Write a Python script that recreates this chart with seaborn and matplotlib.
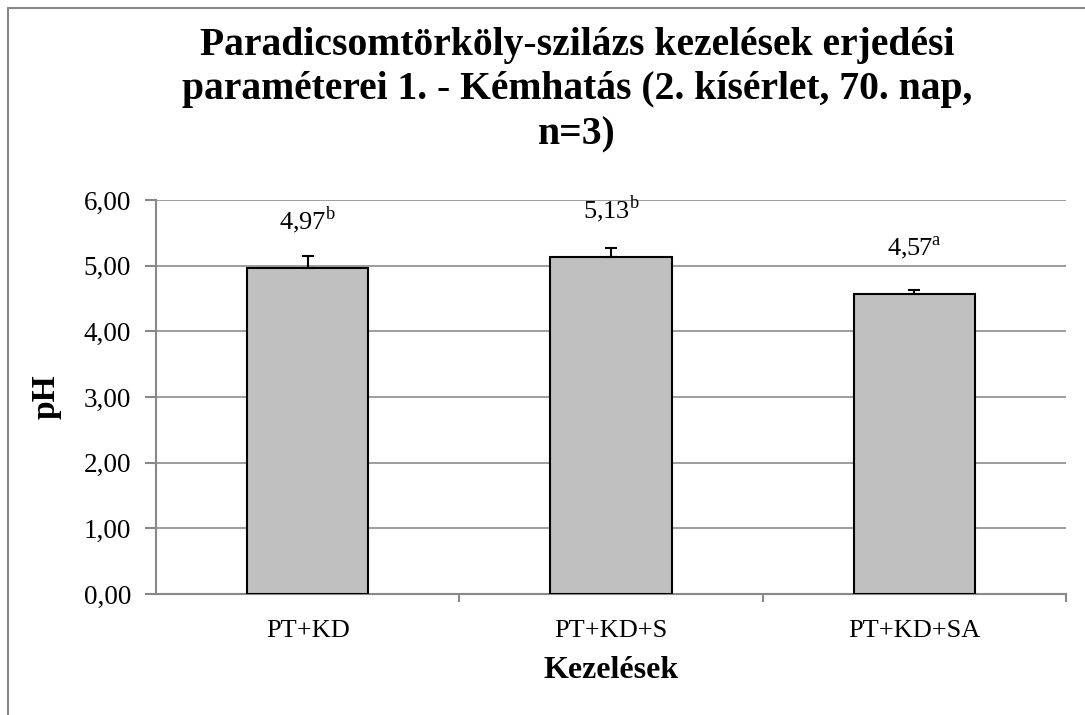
import pandas as pd
import numpy as np
import matplotlib
matplotlib.use('Agg')
import matplotlib.pyplot as plt
import seaborn as sns
from matplotlib.lines import Line2D

# Adatok
kezelesek = ['PT+KD', 'PT+KD+S', 'PT+KD+SA']
ph_atlag = [4.97, 5.13, 4.57]
ph_szoras = [0.17, 0.14, 0.06]
betuk = ['b', 'b', 'a']

df = pd.DataFrame({'Kezelések': kezelesek, 'pH': ph_atlag})

sns.set_theme(style='white')
plt.rcParams['font.family'] = ['Liberation Serif', 'DejaVu Serif']
plt.rcParams['mathtext.fontset'] = 'custom'
plt.rcParams['mathtext.rm'] = 'Liberation Serif'
plt.rcParams['text.color'] = 'black'
plt.rcParams['axes.labelcolor'] = 'black'
plt.rcParams['xtick.color'] = 'black'
plt.rcParams['ytick.color'] = 'black'

fig = plt.figure(figsize=(10.85, 7.15), dpi=100)
ax = fig.add_axes([156 / 1085, 1 - 594 / 715, 910 / 1085, 394 / 715])

sns.barplot(data=df, x='Kezelések', y='pH', color='#c0c0c0', edgecolor='black',
            linewidth=1.5, width=0.40, saturation=1, errorbar=None, ax=ax, zorder=3)

x = np.arange(len(kezelesek))
ax.errorbar(x, ph_atlag, yerr=[np.zeros(len(ph_szoras)), ph_szoras], fmt='none',
            ecolor='black', elinewidth=1.5, capsize=4.5, capthick=1.5, zorder=4)

for xi, m, b in zip(x, ph_atlag, betuk):
    ax.annotate(f'{m:.2f}'.replace('.', ',') + r'$^{\mathrm{' + b + '}}$',
                (xi, m), xytext=(0, 23), textcoords='offset points',
                ha='center', va='bottom', fontsize=19, color='black')

ax.set_ylim(0, 6)
ax.set_xlim(-0.5, 2.5)
ax.set_yticks(np.arange(0, 7, 1))
ax.set_yticklabels([f'{v:.2f}'.replace('.', ',') for v in np.arange(0, 7, 1)], fontsize=19.5)
ax.set_xticks(x)
ax.set_xticklabels(kezelesek, fontsize=19)
ax.set_xticks([0.5, 1.5, 2.5], minor=True)
ax.tick_params(axis='x', which='major', length=0, pad=19)
ax.tick_params(axis='x', which='minor', length=6, color='#888888', width=1.5, direction='out', bottom=True)
ax.tick_params(axis='y', length=8, color='#888888', labelcolor='black', width=1.5,
               direction='out', left=True, pad=10)

ax.yaxis.grid(True, color='#8c8c8c', linewidth=1.2, zorder=0)
ax.set_axisbelow(True)
for s in ['top', 'right']:
    ax.spines[s].set_visible(False)
for s in ['left', 'bottom']:
    ax.spines[s].set_color('#888888')
    ax.spines[s].set_linewidth(1.5)

ax.set_xlabel('Kezelések', fontsize=23, fontweight='bold', labelpad=10, color='black')
ax.set_ylabel('pH', fontsize=24, fontweight='bold', labelpad=16, color='black')

fig.text(577 / 1085, 1 - 90 / 715,
         'Paradicsomtörköly-szilázs kezelések erjedési\n'
         'paraméterei 1. - Kémhatás (2. kísérlet, 70. nap,\n'
         'n=3)',
         ha='center', va='center', fontsize=28.5, fontweight='bold', linespacing=1.28,
         color='black')

# keret
fig.add_artist(Line2D([8 / 1085, 1], [1 - 8 / 715, 1 - 8 / 715], color='#888888', linewidth=1.5))
fig.add_artist(Line2D([8 / 1085, 8 / 1085], [0, 1 - 8 / 715], color='#888888', linewidth=1.5))

fig.savefig('out.png', dpi=100)
